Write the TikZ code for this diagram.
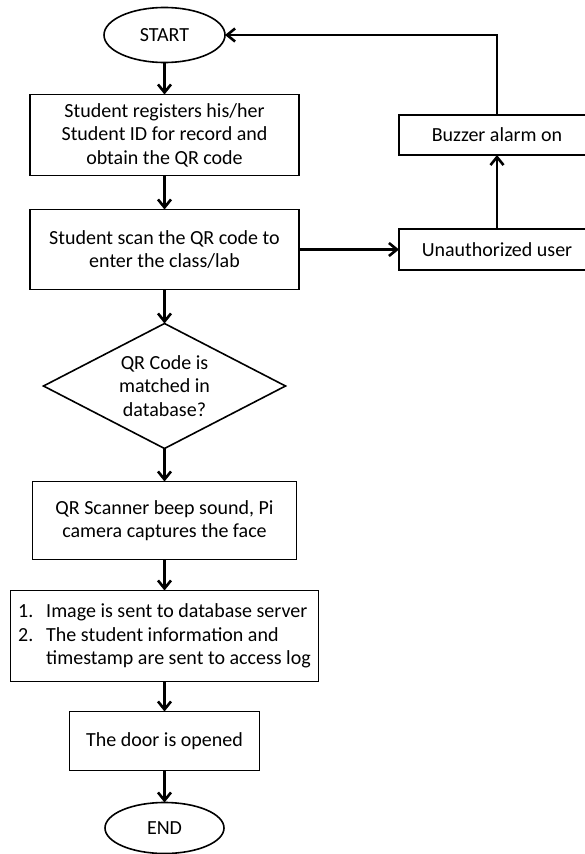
\documentclass[tikz,border=0pt]{standalone}
\usepackage{fontspec}
\setmainfont{Carlito}
\usetikzlibrary{shapes.geometric, arrows.meta, positioning}

\begin{document}
\begin{tikzpicture}[
  x=1pt, y=1pt,
  node distance = 32pt and 100pt,
  font=\fontsize{20}{23.5}\selectfont,
  term/.style   = {ellipse, draw, line width=1.6pt, minimum width=121pt,
                   minimum height=55pt, inner sep=0pt, outer sep=0pt},
  proc/.style   = {rectangle, draw, line width=1.6pt, align=center,
                   inner sep=0pt, outer sep=0pt, minimum height=80pt},
  decide/.style = {diamond, aspect=1.94, draw, line width=1.6pt, align=center,
                   minimum width=242pt, minimum height=125pt, inner sep=0pt,
                   outer sep=0pt},
  arr/.style    = {-{Straight Barb[length=8pt,width=13pt]}, line width=2.6pt},
]
\useasboundingbox (0,0) rectangle (584,-854);

%% ── Main chain ────────────────────────────────────────────────────
\node[term] (start) at (164.5,-35) {START};
\node[proc, minimum width=269pt, minimum height=81pt, below=32pt of start] (register)
    {Student registers his/her\\Student ID for record and\\obtain the QR code};
\node[proc, minimum width=269pt, below=34pt of register] (scan)
    {Student scan the QR code to\\enter the class/lab};
\node[decide, below=34pt of scan] (match) {QR Code is\\matched in\\database?};
\node[proc, minimum width=264pt, minimum height=78pt, below=33pt of match] (capture)
    {QR Scanner beep sound, Pi\\camera captures the face};
\node[proc, minimum width=308pt, minimum height=91pt, align=left, below=31pt of capture] (send)
    {\makebox[28pt][l]{1.}Image is sent to database server\\
     \makebox[28pt][l]{2.}The student information and\\
     \hspace*{28pt}timestamp are sent to access log};
\node[proc, minimum width=190pt, minimum height=59pt, below=30pt of send] (door)
    {The door is opened};
\node[term, minimum width=119pt, minimum height=51pt, below=32pt of door] (end) {END};

%% ── Rejection branch ──────────────────────────────────────────────
\node[proc, minimum width=196pt, minimum height=40pt, right=of register] (buzzer)
    {Buzzer alarm on};
\node[proc, minimum width=196pt, minimum height=41pt, right=of scan] (unauth)
    {Unauthorized user};

%% ── Arrows ────────────────────────────────────────────────────────
\draw[arr] (start)   -- (register);
\draw[arr] (register) -- (scan);
\draw[arr] (scan)    -- (match);
\draw[arr] (match)   -- (capture);
\draw[arr] (capture) -- (send);
\draw[arr] (send)    -- (door);
\draw[arr] (door)    -- (end);

\draw[arr] (scan)   -- (unauth);
\draw[arr] (unauth) -- (buzzer);
\draw[arr] (buzzer) |- (start);

\end{tikzpicture}
\end{document}
